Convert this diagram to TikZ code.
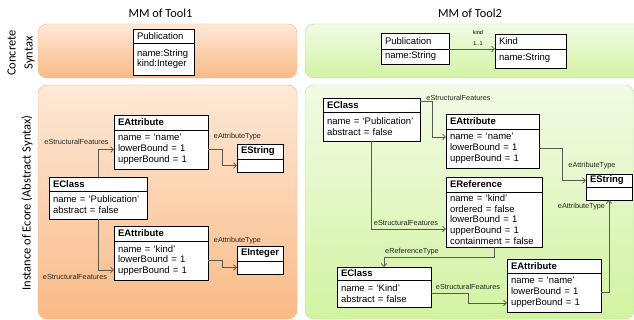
\documentclass[tikz,border=0pt]{standalone}
\usepackage{fontspec}
\setmainfont{Liberation Sans}
\newfontfamily\calibri{Carlito}
\usepackage{xcolor}
\usetikzlibrary{positioning}
\usetikzlibrary{arrows.meta}
\definecolor{orgtop}{RGB}{253,233,215}
\definecolor{orgbot}{RGB}{250,186,134}
\definecolor{orgline}{RGB}{246,178,125}
\definecolor{grntop}{RGB}{242,251,229}
\definecolor{grnbot}{RGB}{210,243,162}
\definecolor{grnline}{RGB}{188,222,145}
\definecolor{connclr}{RGB}{92,88,84}
\tikzset{
  orgpanel/.style={draw=orgline, rounded corners=9pt, top color=orgtop, bottom color=orgbot},
  grnpanel/.style={draw=grnline, rounded corners=9pt, top color=grntop, bottom color=grnbot},
  clshead/.style={draw, fill=white, line width=0.8pt, anchor=north west, inner xsep=4pt, inner ysep=0pt,
    outer sep=0pt, align=left, font=\fontsize{9.5}{10.8}\selectfont\bfseries},
  cshead/.style={clshead, font=\fontsize{9.5}{10.8}\selectfont},
  clsbody/.style={draw, fill=white, line width=0.8pt, anchor=north west, inner xsep=4pt, inner ysep=0pt,
    outer sep=0pt, align=left, font=\fontsize{9.5}{10.8}\selectfont},
  conn/.style={draw=connclr, line width=0.7pt, -{Straight Barb[length=3pt,width=5.5pt]}},
  lbl/.style={inner sep=0pt, text=black!85, font=\fontsize{7.3}{8}\selectfont},
  tinylbl/.style={inner sep=0pt, font=\fontsize{5.5}{6}\selectfont},
  rowtitle/.style={rotate=90, align=center, font=\calibri\fontsize{12.5}{17}\selectfont},
}
% class box: header node (#2) and body node (#2b)
\newcommand\umlbox[8][clshead]{
  \node[#1, minimum width=#4pt, text width=#4pt-8pt, minimum height=#5pt] (#2) at (#3) {#7};
  \node[clsbody, minimum width=#4pt, text width=#4pt-8pt, minimum height=#6pt] (#2b) at (#2.south west) {#8};
}

\begin{document}
\begin{tikzpicture}[x=1pt, y=-1pt]
  \useasboundingbox (0,0) rectangle (634,320);
  % panels
  \draw[orgpanel] (38,24) rectangle (297,78);
  \draw[orgpanel] (38,85) rectangle (297,319);
  \draw[grnpanel] (305,24) rectangle (645,78);
  \draw[grnpanel] (305,85) rectangle (634,319);
  % titles
  \node[font=\calibri\fontsize{12.3}{14}\selectfont] (tool1) at (160.5,13) {MM of Tool1};
  \node[font=\calibri\fontsize{12.3}{14}\selectfont] (tool2) at (470,13) {MM of Tool2};
  \node[rowtitle] (concr) at (21,53) {Concrete\\Syntax};
  \node[rowtitle] (abstr) at (27,203) {Instance of Ecore (Abstract Syntax)};

  % Tool1
  \umlbox[cshead]{pub1}{133,29}{61}{14}{32}{Publication}{name:String\\kind:Integer}
  \umlbox{ea1}{114,115}{94}{15}{39}{EAttribute}{name = `name'\\lowerBound = 1\\upperBound = 1}
  \umlbox{es1}{237,144}{46}{15}{13}{EString}{}
  \umlbox{ec1}{49,177}{98}{14}{28}{EClass}{name = `Publication'\\abstract = false}
  \umlbox{ea2}{114,226}{94}{15}{39}{EAttribute}{name = `kind'\\lowerBound = 1\\upperBound = 1}
  \umlbox{ei1}{237,246}{46}{15}{13}{EInteger}{}

  \draw[conn] (ec1.north) |- (ea1b.west);
  \draw[conn] (ea1b.east) -- ++(14,0) |- (es1b.west);
  \draw[conn] (ec1b.south) |- ([yshift=10pt]ea2b.south west);
  \draw[conn] (ea2b.east) -- ++(14,0) |- (ei1b.west);
  \node[lbl] (sf1) at (76.5,142) {eStructuralFeatures};
  \node[lbl] (at1) at (237.5,137) {eAttributeType};
  \node[lbl] (sf2) at (75,277) {eStructuralFeatures};
  \node[lbl] (at2) at (237.5,241) {eAttributeType};

  % Tool2
  \umlbox[cshead]{pub2}{381,33}{68}{16}{15}{Publication}{name:String}
  \umlbox[cshead]{kind}{495,34}{71}{15}{19}{Kind}{name:String}
  \draw[conn] (pub2.south east) -- (kind.south west);
  \node[tinylbl] (rkind) at (478,33) {kind};
  \node[tinylbl] (rmult) at (478,44) {1..1};

  \umlbox{ec2}{323,98}{97}{14}{29}{EClass}{name = `Publication'\\abstract = false}
  \umlbox{ea3}{446,114}{93}{15}{39}{EAttribute}{name = `name'\\lowerBound = 1\\upperBound = 1}
  \umlbox{es2}{586,174}{46}{13}{13}{EString}{}
  \umlbox{er}{446,177}{96}{15}{55}{EReference}{name = `kind'\\ordered = false\\lowerBound = 1\\upperBound = 1\\containment = false}
  \umlbox{ec3}{337,267}{94}{13}{27}{EClass}{name = `Kind'\\abstract = false}
  \umlbox{ea4}{507,259}{94}{14}{39}{EAttribute}{name = `name'\\lowerBound = 1\\upperBound = 1}

  \draw[conn] ([yshift=-3pt]ec2.north east) -- ++(12,0) |- ([yshift=-8pt]ea3b.north west);
  \draw[conn] (ea3b.east) -- ++(23,0) |- (es2.west);
  \draw[conn] (ec2b.south) |- ([yshift=-9.5pt]erb.west);
  \draw[conn] (erb.south) -- ++(0,10) -| (ec3.north);
  \draw[conn] (ec3b.east) -- ++(37,0) |- ([yshift=9pt]ea4b.south west);
  \draw[conn] (ea4b.east) -| (es2b.south);
  \node[lbl] (sf3) at (458.5,98) {eStructuralFeatures};
  \node[lbl] (at3) at (592,166) {eAttributeType};
  \node[lbl] (sf4) at (406,223) {eStructuralFeatures};
  \node[lbl] (rt) at (412,252) {eReferenceType};
  \node[lbl] (sf5) at (468,287) {eStructuralFeatures};
  \node[lbl] (at4) at (581.5,207) {eAttributeType};
\end{tikzpicture}
\end{document}
